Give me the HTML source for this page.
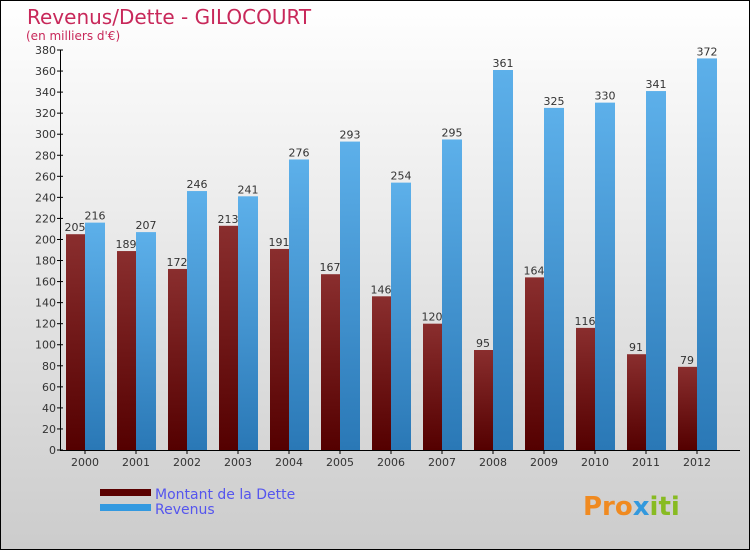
<!DOCTYPE html>
<html><head><meta charset="utf-8"><style>
html,body{margin:0;padding:0}
body{width:750px;height:550px;overflow:hidden;font-family:"DejaVu Sans","Liberation Sans",sans-serif}
</style></head><body>
<svg width="750" height="550" xmlns="http://www.w3.org/2000/svg">
<defs>
<linearGradient id="bg" x1="0" y1="0" x2="0" y2="1"><stop offset="0" stop-color="#ffffff"/><stop offset="1" stop-color="#cccccc"/></linearGradient>
<linearGradient id="gd" x1="0" y1="0" x2="0" y2="1"><stop offset="0" stop-color="#8a2e2e"/><stop offset="1" stop-color="#540000"/></linearGradient>
<linearGradient id="gr" x1="0" y1="0" x2="0" y2="1"><stop offset="0" stop-color="#5db0ea"/><stop offset="1" stop-color="#2a78b6"/></linearGradient>
</defs>
<rect x="0.5" y="0.5" width="749" height="549" fill="url(#bg)" stroke="#000"/>
<text x="27" y="24" font-size="20" fill="#c8285a">Revenus/Dette - GILOCOURT</text>
<text x="26" y="40" font-size="12" fill="#c8285a">(en milliers d'€)</text>
<g id="plot"></g>
<rect x="100" y="489" width="51" height="7" fill="#5a0000"/>
<rect x="100" y="504" width="51" height="7" fill="#3399e0"/>
<text x="155" y="499" font-size="14" fill="#5555ee">Montant de la Dette</text>
<text x="155" y="514" font-size="14" fill="#5555ee">Revenus</text>
<text x="583" y="515" font-size="26" font-weight="bold" fill="#f08a20">Pro<tspan fill="#3399dd">x</tspan><tspan fill="#88bb22">iti</tspan></text>
</svg>
<script>
const years=["2000","2001","2002","2003","2004","2005","2006","2007","2008","2009","2010","2011","2012"];
const dette=[205,189,172,213,191,167,146,120,95,164,116,91,79];
const revenus=[216,207,246,241,276,293,254,295,361,325,330,341,372];
const yTicks=[0,20,40,60,80,100,120,140,160,180,200,220,240,260,280,300,320,340,360,380];
const NS="http://www.w3.org/2000/svg";
const g=document.getElementById('plot');
const y0=450,yTop=50,yMax=380;
function yScale(v){return y0-(v/yMax)*(y0-yTop);}
function xCenter(i){return 85+i*51;}
function mk(t,a,txt){const e=document.createElementNS(NS,t);for(const k in a)e.setAttribute(k,a[k]);if(txt!==undefined)e.textContent=txt;g.appendChild(e);return e;}
years.forEach((yr,i)=>{
  const c=xCenter(i);
  let h=y0-yScale(dette[i]);
  let r=mk('rect',{x:c-19,y:yScale(dette[i]),width:19,height:h,fill:'url(#gd)'});
  
  
  r=mk('rect',{x:c,y:yScale(revenus[i]),width:20,height:y0-yScale(revenus[i]),fill:'url(#gr)'});
  
  
  let t=mk('text',{x:c-10,y:yScale(dette[i])-3,'font-size':11,fill:'#333','text-anchor':'middle'},String(dette[i]));
  
  
  t=mk('text',{x:c+10,y:yScale(revenus[i])-3,'font-size':11,fill:'#333','text-anchor':'middle'},String(revenus[i]));
  
  
  t=mk('text',{x:c,y:466,'font-size':11,fill:'#333','text-anchor':'middle'},yr);
  
  
  const tk=mk('line',{x1:c,x2:c,y1:450,y2:454,stroke:'#000'});
  
  
});
yTicks.forEach(v=>{
  const y=yScale(v);
  const l=mk('line',{x1:57,x2:63,y1:y,y2:y,stroke:'#000'});
  
  
  const t=mk('text',{x:56,y:y+4,'font-size':11,fill:'#333','text-anchor':'end'},String(v));
  
  
});
let ax=mk('line',{x1:60.5,x2:60.5,y1:50,y2:450,stroke:'#000'});


ax=mk('line',{x1:60,x2:740,y1:450.5,y2:450.5,stroke:'#000'});


</script>
</body></html>
